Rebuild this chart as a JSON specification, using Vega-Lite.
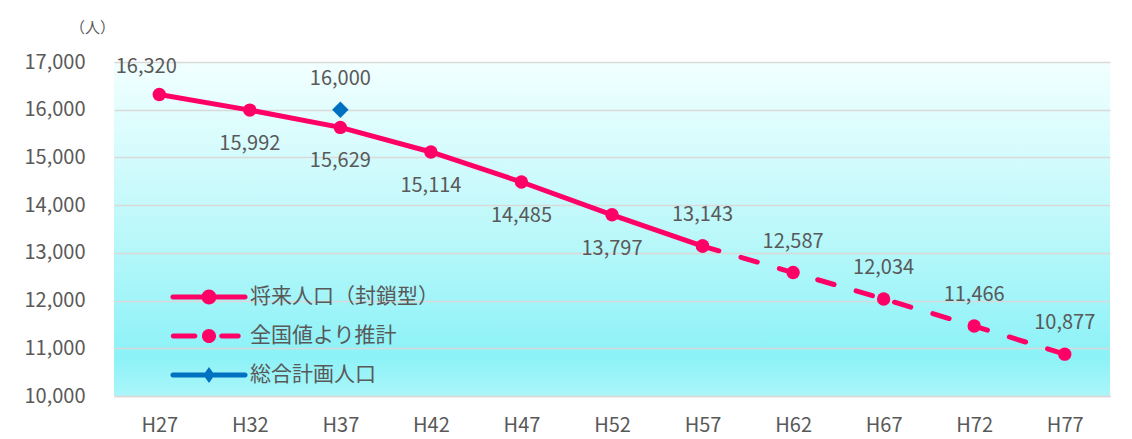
{
  "$schema": "https://vega.github.io/schema/vega-lite/v6.json",
  "autosize": "none",
  "width": 996,
  "height": 334,
  "padding": {"left": 114, "top": 62, "right": 22, "bottom": 43},
  "background": "white",
  "data": {
    "values": [
      {"x": "H27", "value": 16320, "series": "将来人口（封鎖型）"},
      {"x": "H32", "value": 15992, "series": "将来人口（封鎖型）"},
      {"x": "H37", "value": 15629, "series": "将来人口（封鎖型）"},
      {"x": "H42", "value": 15114, "series": "将来人口（封鎖型）"},
      {"x": "H47", "value": 14485, "series": "将来人口（封鎖型）"},
      {"x": "H52", "value": 13797, "series": "将来人口（封鎖型）"},
      {"x": "H57", "value": 13143, "series": "将来人口（封鎖型）"},
      {"x": "H57", "value": 13143, "series": "全国値より推計"},
      {"x": "H62", "value": 12587, "series": "全国値より推計"},
      {"x": "H67", "value": 12034, "series": "全国値より推計"},
      {"x": "H72", "value": 11466, "series": "全国値より推計"},
      {"x": "H77", "value": 10877, "series": "全国値より推計"},
      {"x": "H37", "value": 16000, "series": "総合計画人口"}
    ]
  },
  "encoding": {
    "x": {
      "field": "x", "type": "ordinal",
      "sort": ["H27","H32","H37","H42","H47","H52","H57","H62","H67","H72","H77"],
      "scale": {"type": "point", "padding": 0.5},
      "axis": {
        "title": null, "labelAngle": 0, "ticks": false, "grid": false,
        "domainColor": "#d9d9d9", "domainWidth": 1.5,
        "labelFontSize": 20, "labelColor": "#595959", "labelPadding": 19
      }
    },
    "y": {
      "field": "value", "type": "quantitative",
      "scale": {"domain": [10000, 17000], "nice": false, "zero": false},
      "axis": {
        "title": "（人）", "titleAngle": 0, "titleX": -22, "titleY": -35,
        "titleAlign": "center", "titleBaseline": "middle",
        "titleFontSize": 15, "titleFontWeight": "normal", "titleColor": "#595959",
        "values": [10000, 11000, 12000, 13000, 14000, 15000, 16000, 17000],
        "format": ",d", "domain": false, "ticks": false,
        "gridColor": "#d9d9d9", "gridWidth": 1.5,
        "labelFontSize": 20, "labelColor": "#595959", "labelPadding": 29
      }
    }
  },
  "layer": [
    {
      "transform": [{"filter": "datum.series === '将来人口（封鎖型）'"}],
      "mark": {"type": "line", "strokeWidth": 5, "strokeCap": "round", "strokeJoin": "round"},
      "encoding": {
        "color": {
          "field": "series", "type": "nominal",
          "scale": {"domain": ["将来人口（封鎖型）", "全国値より推計", "総合計画人口"], "range": ["#ff0066", "#ff0066", "#0070c0"]},
          "legend": {
            "title": null, "orient": "none", "legendX": 76, "legendY": 216,
            "padding": 0, "symbolSize": 1444, "symbolStrokeWidth": 0, "rowPadding": 10,
            "labelOffset": 22, "labelFontSize": 21, "labelLimit": 400, "labelColor": "#595959", "labelFont": "Noto Sans CJK JP",
            "encode": {
              "symbols": {
                "update": {
                  "shape": {"signal": "datum.value === '総合計画人口' ? 'M-1.9,-0.13H1.9A0.13,0.13 0 0,1 1.9,0.13H-1.9A0.13,0.13 0 0,1 -1.9,-0.13Z M0,-0.42L0.3,0L0,0.42L-0.3,0Z' : datum.value === '全国値より推計' ? 'M-1.88,-0.13H-0.74A0.13,0.13 0 0,1 -0.74,0.13H-1.88A0.13,0.13 0 0,1 -1.88,-0.13Z M0.67,-0.13H1.54A0.13,0.13 0 0,1 1.54,0.13H0.67A0.13,0.13 0 0,1 0.67,-0.13Z M0.37,0A0.37,0.37 0 1,1 -0.37,0A0.37,0.37 0 1,1 0.37,0Z' : 'M-1.9,-0.13H1.9A0.13,0.13 0 0,1 1.9,0.13H-1.9A0.13,0.13 0 0,1 -1.9,-0.13Z M0.39,0A0.39,0.39 0 1,1 -0.39,0A0.39,0.39 0 1,1 0.39,0Z'"},
                  "fill": {"signal": "datum.value === '総合計画人口' ? '#0070c0' : '#ff0066'"},
                  "fillOpacity": {"value": 1},
                  "opacity": {"value": 1},
                  "stroke": {"value": "transparent"},
                  "strokeWidth": {"value": 0}
                }
              }
            }
          }
        }
      }
    },
    {
      "transform": [{"filter": "datum.series === '全国値より推計'"}],
      "mark": {"type": "line", "strokeWidth": 5, "strokeCap": "round", "strokeDash": [17, 23]},
      "encoding": {"color": {"field": "series", "type": "nominal"}}
    },
    {
      "transform": [{"filter": "datum.series !== '総合計画人口'"}],
      "mark": {"type": "point", "shape": "circle", "filled": true, "size": 180, "opacity": 1},
      "encoding": {"color": {"field": "series", "type": "nominal"}}
    },
    {
      "transform": [{"filter": "datum.series === '総合計画人口'"}],
      "mark": {"type": "point", "shape": "diamond", "filled": true, "size": 270, "opacity": 1},
      "encoding": {"color": {"field": "series", "type": "nominal"}}
    },
    {
      "transform": [{"filter": "datum.series === '将来人口（封鎖型）' && datum.x !== 'H27' && datum.x !== 'H57'"}],
      "mark": {"type": "text", "fontSize": 20, "color": "#595959", "baseline": "middle", "dy": 34},
      "encoding": {"text": {"field": "value", "type": "quantitative", "format": ","}}
    },
    {
      "transform": [{"filter": "(datum.series === '将来人口（封鎖型）' && datum.x === 'H57') || (datum.series === '全国値より推計' && datum.x !== 'H57') || datum.series === '総合計画人口'"}],
      "mark": {"type": "text", "fontSize": 20, "color": "#595959", "baseline": "middle", "dy": -31},
      "encoding": {"text": {"field": "value", "type": "quantitative", "format": ","}}
    },
    {
      "transform": [{"filter": "datum.series === '将来人口（封鎖型）' && datum.x === 'H27'"}],
      "mark": {"type": "text", "fontSize": 20, "color": "#595959", "baseline": "middle", "dy": -27, "dx": -13},
      "encoding": {"text": {"field": "value", "type": "quantitative", "format": ","}}
    }
  ],
  "config": {
    "font": "Noto Sans CJK JP",
    "view": {
      "stroke": null,
      "fill": {
        "gradient": "linear", "x1": 0, "y1": 0, "x2": 0, "y2": 1,
        "stops": [
          {"offset": 0, "color": "#f2ffff"},
          {"offset": 0.5, "color": "#bdf8fa"},
          {"offset": 0.88, "color": "#8cf2f7"},
          {"offset": 1, "color": "#aaf6f9"}
        ]
      }
    }
  }
}
